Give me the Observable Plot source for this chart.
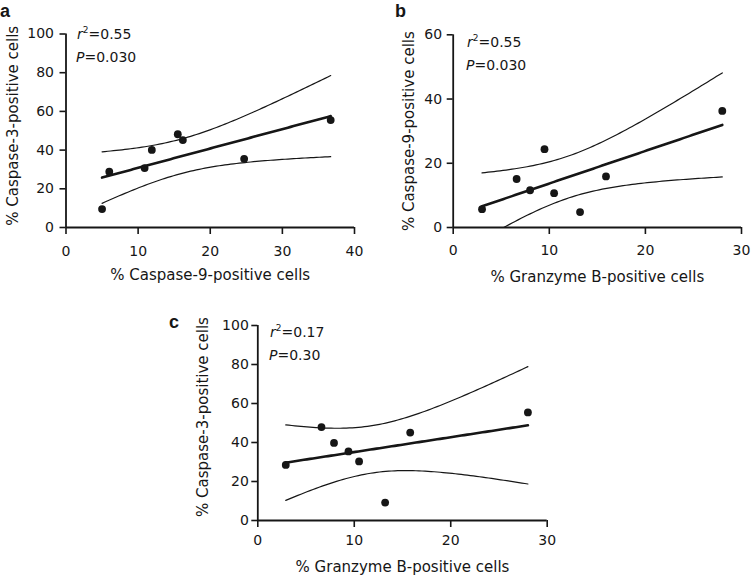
<!DOCTYPE html>
<html><head><meta charset="utf-8">
<script src="https://cdn.jsdelivr.net/npm/d3@7"></script>
<script src="https://cdn.jsdelivr.net/npm/@observablehq/plot@0.6"></script>
<style>
body{margin:0;background:#fff;}
#wrap{position:relative;width:752px;height:577px;overflow:hidden;font-family:"DejaVu Sans",sans-serif;}
.panel{position:absolute;}
#overlay{position:absolute;left:0;top:0;pointer-events:none;}
</style></head><body><div id="wrap"></div>
<script>
// Panel a: % Caspase-9-positive (x) vs % Caspase-3-positive (y)
const aX = [5.0, 6.0, 10.9, 11.9, 15.5, 16.2, 24.7, 36.7];
const aY = [9.5, 28.8, 30.7, 40.1, 48.2, 45.2, 35.5, 55.5];
// Panel b: % Granzyme B-positive (x) vs % Caspase-9-positive (y)
const bX = [3.0, 6.6, 8.0, 9.5, 10.5, 13.2, 15.9, 28.0];
const bY = [5.7, 15.1, 11.6, 24.4, 10.7, 4.8, 15.9, 36.3];
// Panel c: % Granzyme B-positive (x) vs % Caspase-3-positive (y)
const cX = [2.9, 6.6, 7.9, 9.4, 10.5, 13.2, 15.8, 28.0];
const cY = [28.5, 47.9, 39.8, 35.4, 30.3, 9.2, 45.1, 55.4];

const ticks0to40 = [0, 10, 20, 30, 40];
const ticks0to30 = [0, 10, 20, 30];
const ticks0to100 = [0, 20, 40, 60, 80, 100];
const ticks0to60 = [0, 20, 40, 60];

const stats = [
  {letter: "a", r2: "0.55", p: "0.030"},
  {letter: "b", r2: "0.55", p: "0.030"},
  {letter: "c", r2: "0.17", p: "0.30"}
];

// least squares fit with 95% confidence band for the mean (df = n - 2)
function fitBand(xs, ys, steps = 80) {
  const n = xs.length, mx = d3.mean(xs), my = d3.mean(ys);
  let sxx = 0, sxy = 0;
  for (let i = 0; i < n; i++) { sxx += (xs[i]-mx)**2; sxy += (xs[i]-mx)*(ys[i]-my); }
  const b = sxy / sxx, a = my - b * mx;
  let sse = 0;
  for (let i = 0; i < n; i++) sse += (ys[i] - a - b*xs[i])**2;
  const s = Math.sqrt(sse / (n - 2));
  const tTable = {4: 2.776, 5: 2.571, 6: 2.447, 7: 2.365, 8: 2.306};
  const t = tTable[n - 2] ?? 1.96;
  const [x0, x1] = d3.extent(xs);
  return d3.range(steps + 1).map(i => {
    const x = x0 + (x1 - x0) * i / steps;
    const yh = a + b * x;
    const se = s * Math.sqrt(1/n + (x - mx)**2 / sxx);
    return {x, fit: yh, lo: yh - t*se, hi: yh + t*se};
  });
}

const FONT = '"DejaVu Sans", sans-serif';
const INK = "#161616";

function panel(o) {
  const band = fitBand(o.xs, o.ys);
  const pts = o.xs.map((x, i) => ({x, y: o.ys[i]}));
  const chart = Plot.plot({
    width: o.width, height: o.height,
    marginLeft: o.ml, marginRight: o.mr, marginTop: o.mt, marginBottom: o.mb,
    style: {fontFamily: FONT, fontSize: "14px", color: INK, background: "transparent", overflow: "visible"},
    x: {domain: o.xDomain},
    y: {domain: o.yDomain},
    marks: [
      Plot.axisX({ticks: o.xTicks, tickSize: 7, tickPadding: o.xPad, label: null, strokeWidth: 1.6, fontSize: 14}),
      Plot.axisY({ticks: o.yTicks, tickSize: 6, tickPadding: o.yPad, label: null, strokeWidth: 1.6, fontSize: 14}),
      Plot.ruleY([o.yDomain[0]], {strokeWidth: 1.8, stroke: INK}),
      Plot.ruleX([o.xDomain[0]], {strokeWidth: 1.8, stroke: INK}),
      Plot.line(band, {x: "x", y: "hi", stroke: INK, strokeWidth: 1.2, clip: true}),
      Plot.line(band, {x: "x", y: "lo", stroke: INK, strokeWidth: 1.2, clip: true}),
      Plot.line(band, {x: "x", y: "fit", stroke: INK, strokeWidth: 2.6}),
      Plot.dot(pts, {x: "x", y: "y", r: 3.9, fill: INK, stroke: "none"}),
      Plot.text([o.xLabel], {text: d => d, frameAnchor: "bottom", textAnchor: "middle", lineAnchor: "bottom", dy: o.xLabelOffset, fontSize: 15, fill: INK}),
      Plot.text([o.yLabel], {text: d => d, frameAnchor: "left", textAnchor: "middle", lineAnchor: "middle", rotate: -90, dx: o.yLabelDx, dy: o.yLabelDy, fontSize: 15, fill: INK})
    ]
  });
  chart.classList.add("panel");
  chart.style.left = o.left + "px";
  chart.style.top = o.top + "px";
  chart.style.position = "absolute";
  document.getElementById("wrap").appendChild(chart);
}

panel({xs: aX, ys: aY, xDomain: [0, 40], yDomain: [0, 100], xTicks: ticks0to40, yTicks: ticks0to100,
  xLabel: "% Caspase-9-positive cells", yLabel: "% Caspase-3-positive cells",
  left: 0, top: 0, width: 375, height: 290, ml: 65.5, mr: 21, mt: 33.5, mb: 63,
  xPad: 12, yPad: 6, xLabelOffset: 52.5, yLabelDx: -52.5, yLabelDy: -5});

panel({xs: bX, ys: bY, xDomain: [0, 30], yDomain: [0, 60], xTicks: ticks0to30, yTicks: ticks0to60,
  xLabel: "% Granzyme B-positive cells", yLabel: "% Caspase-9-positive cells",
  left: 380, top: 0, width: 372, height: 290, ml: 72.7, mr: 11, mt: 34.3, mb: 63,
  xPad: 11, yPad: 5, xLabelOffset: 54.7, yLabelDx: -43.7, yLabelDy: 0});

panel({xs: cX, ys: cY, xDomain: [0, 30], yDomain: [0, 100], xTicks: ticks0to30, yTicks: ticks0to100,
  xLabel: "% Granzyme B-positive cells", yLabel: "% Caspase-3-positive cells",
  left: 185, top: 290, width: 380, height: 287, ml: 72.3, mr: 18.3, mt: 35, mb: 57,
  xPad: 8, yPad: 3, xLabelOffset: 51.7, yLabelDx: -54.8, yLabelDy: -6});

// overlay: panel letters and statistics
const spots = [
  {lx: 0, ly: 17, sx: 77, sy1: 39.3, sy2: 61.7},
  {lx: 395, ly: 17, sx: 467, sy1: 46.7, sy2: 70},
  {lx: 169, ly: 328, sx: 270, sy1: 336.7, sy2: 360}
];
const svg = d3.select("#wrap").append("svg").attr("id", "overlay")
  .attr("width", 752).attr("height", 577)
  .style("font-family", FONT).attr("fill", INK);
stats.forEach((s, i) => {
  const p = spots[i];
  svg.append("text").attr("x", p.lx).attr("y", p.ly)
    .attr("font-family", '"Liberation Sans", Arial, sans-serif')
    .attr("font-weight", "bold").attr("font-size", 18).text(s.letter);
  const t1 = svg.append("text").attr("x", p.sx).attr("y", p.sy1).attr("font-size", 14);
  t1.append("tspan").attr("font-style", "italic").text("r");
  t1.append("tspan").attr("font-size", 9).attr("dy", -6).text("2");
  t1.append("tspan").attr("dy", 6).text("=" + s.r2);
  const t2 = svg.append("text").attr("x", p.sx - 1).attr("y", p.sy2).attr("font-size", 14);
  t2.append("tspan").attr("font-style", "italic").text("P");
  t2.append("tspan").text("=" + s.p);
});
</script></body></html>
